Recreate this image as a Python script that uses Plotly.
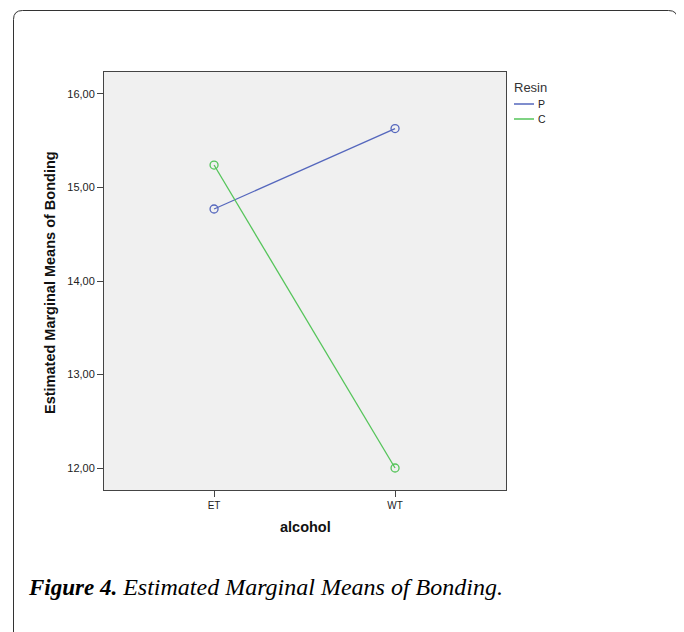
import plotly.graph_objects as go

categories = ["ET", "WT"]
series_names = ["P", "C"]
values_p = [14.77, 15.63]
values_c = [15.24, 12.00]
y_ticks = [12, 13, 14, 15, 16]
y_tick_labels = ["12,00", "13,00", "14,00", "15,00", "16,00"]
colors = ["#5567bd", "#55c45a"]

OFF = 8  # page body margin
W, H = 684 - OFF, 632 - OFF
L, R, T, B = 104 - OFF, 506 - OFF, 72 - OFF, 490 - OFF  # plot area in figure pixels


def px(x):
    return (x - OFF - L) / (R - L)


def py(y):
    return (B - (y - OFF)) / (B - T)


fig = go.Figure()
for name, vals, col in zip(series_names, [values_p, values_c], colors):
    fig.add_trace(go.Scatter(
        x=[0, 1], y=vals, mode="lines+markers", name=name, showlegend=False,
        line=dict(color=col, width=1.3),
        marker=dict(symbol="circle-open", size=8, color=col, line=dict(width=1.3)),
    ))

# rounded outer frame
x0, x1, y0, y1, r = 13.5, 677.5, 10.5, 660, 9
path = (f"M {px(x0+r)},{py(y0)} L {px(x1-r)},{py(y0)} "
        f"Q {px(x1)},{py(y0)} {px(x1)},{py(y0+r)} "
        f"L {px(x1)},{py(y1)} L {px(x0)},{py(y1)} L {px(x0)},{py(y0+r)} "
        f"Q {px(x0)},{py(y0)} {px(x0+r)},{py(y0)} Z")

shapes = [dict(type="path", xref="paper", yref="paper", path=path,
               line=dict(color="#333", width=1), layer="below")]
annotations = [
    dict(text="<b>Estimated Marginal Means of Bonding</b>", xref="paper", yref="paper",
         x=px(50), y=py(283), textangle=-90, showarrow=False,
         font=dict(size=14.5, color="#111"), xanchor="center", yanchor="middle"),
    dict(text="<b>alcohol</b>", xref="paper", yref="paper",
         x=px(305), y=py(527), showarrow=False,
         font=dict(size=14.5, color="#111"), xanchor="center", yanchor="middle"),
    dict(text="<b><i>Figure 4.</i></b><i><span style='font-size:24px'> Estimated Marginal Means of Bonding.</span></i>",
         xref="paper", yref="paper", x=px(26), y=py(587), showarrow=False,
         font=dict(family="Liberation Serif, DejaVu Serif, serif", size=23, color="#000"),
         xanchor="left", yanchor="middle"),
    dict(text="Resin", xref="paper", yref="paper", x=px(512), y=py(87), showarrow=False,
         font=dict(size=13, color="#333"), xanchor="left", yanchor="middle"),
]
# legend drawn manually (short line swatches, no markers)
for i, (name, col) in enumerate(zip(series_names, colors)):
    yy = 104 + 15 * i
    shapes.append(dict(type="line", xref="paper", yref="paper",
                       x0=px(514), x1=px(534), y0=py(yy), y1=py(yy),
                       line=dict(color=col, width=1.5)))
    annotations.append(dict(text=name, xref="paper", yref="paper", x=px(536), y=py(yy),
                            showarrow=False, font=dict(size=10.5, color="#222"),
                            xanchor="left", yanchor="middle"))

fig.update_layout(
    width=W, height=H,
    margin=dict(l=L, r=W - R, t=T, b=H - B),
    paper_bgcolor="white", plot_bgcolor="#f0f0f0",
    font=dict(family="Arial, Liberation Sans, sans-serif", color="#222", size=11),
    showlegend=False,
    xaxis=dict(
        range=[-0.608, 1.613], tickvals=[0, 1], ticktext=categories,
        showgrid=False, zeroline=False, showline=True, mirror=True,
        linecolor="#444", linewidth=1, ticks="outside", ticklen=6,
        tickcolor="#444", tickfont=dict(size=10),
    ),
    yaxis=dict(
        range=[11.765, 16.235], tickvals=y_ticks, ticktext=y_tick_labels,
        showgrid=False, zeroline=False, showline=True, mirror=True,
        linecolor="#444", linewidth=1, ticks="outside", ticklen=6,
        tickcolor="#444", tickfont=dict(size=11),
    ),
    shapes=shapes,
    annotations=annotations,
)

fig.write_html("out.html")
